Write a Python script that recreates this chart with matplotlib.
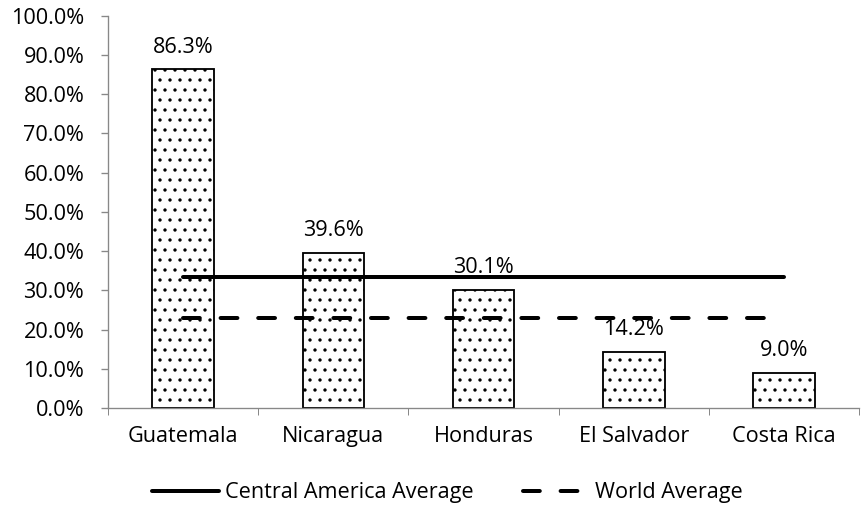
import matplotlib
matplotlib.use("Agg")
from matplotlib import pyplot as plt
from matplotlib.ticker import FuncFormatter, FixedLocator

countries = ["Guatemala", "Nicaragua", "Honduras", "El Salvador", "Costa Rica"]
values = [86.3, 39.6, 30.1, 14.2, 9.0]
ca_avg = [33.4, 33.4, 33.4, 33.4, 33.4]
world_avg = [22.9, 22.9, 22.9, 22.9, 22.9]

DPI = 120
plt.rcParams['font.family'] = ['Open Sans', 'DejaVu Sans']
plt.rcParams['hatch.linewidth'] = 0.8
plt.rcParams['hatch.color'] = '#666666'

fig = plt.figure(figsize=(861 / DPI, 508 / DPI), dpi=DPI)
ax = fig.add_axes([0.1254, 0.1969, 0.8726, 0.7722])

fs = 13
x = list(range(len(countries)))
ax.bar(x, values, width=0.41, color='white', edgecolor='black', linewidth=1.1, hatch='..')
for xi, v in zip(x, values):
    ax.text(xi, v + 4.3, f"{v:.1f}%", ha='center', va='baseline', fontsize=fs)

ax.plot(x, ca_avg, color='black', linewidth=2.4, solid_capstyle='round',
        label='Central America Average')
ax.plot(x, world_avg, color='black', linewidth=2.4, dashes=(4.2, 5.2),
        dash_capstyle='round', label='World Average')

ax.set_xlim(-0.5, 4.5)
ax.set_ylim(0, 100)
ax.yaxis.set_major_locator(FixedLocator([i * 10 for i in range(11)]))
ax.yaxis.set_major_formatter(FuncFormatter(lambda v, p: f"{v:.1f}%"))
ax.set_xticks(x)
ax.set_xticklabels(countries)
ax.set_xticks([i - 0.5 for i in range(6)], minor=True)
ax.tick_params(axis='x', which='major', length=0, pad=11, labelsize=fs)
ax.tick_params(axis='x', which='minor', length=4.2, color='#888888')
ax.tick_params(axis='y', length=4.2, color='#888888', labelsize=fs, pad=10)

for s in ['top', 'right']:
    ax.spines[s].set_visible(False)
ax.spines['left'].set_color('#888888')
ax.spines['bottom'].set_color('#888888')

fig.legend(loc='center', bbox_to_anchor=(0.52, 0.03), ncol=2, frameon=False,
           fontsize=fs, handlelength=3.05, handletextpad=0.28, columnspacing=2.3,
           borderpad=0, borderaxespad=0)

plt.savefig("out.png", dpi=DPI)
